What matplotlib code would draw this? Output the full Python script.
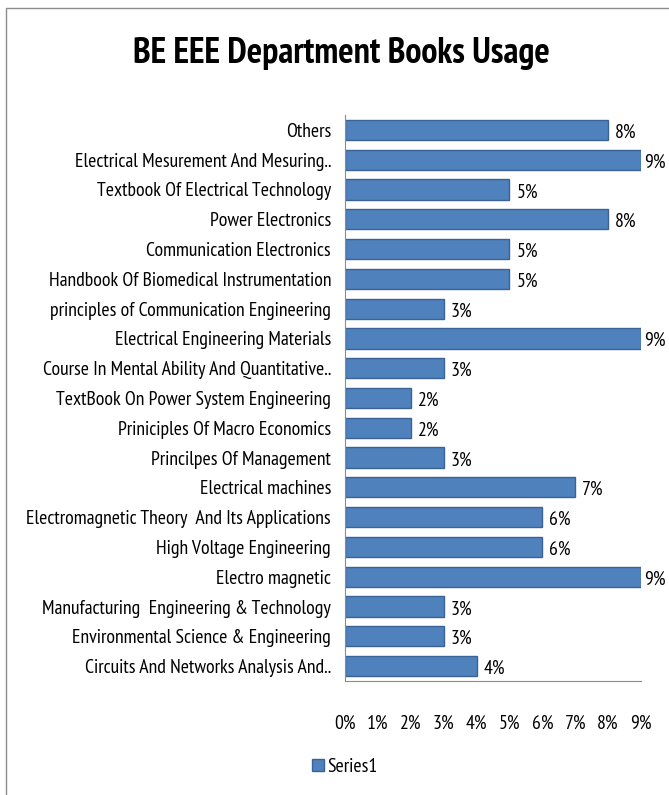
import matplotlib
matplotlib.use("Agg")
import matplotlib.pyplot as plt
from matplotlib import font_manager as fm
from matplotlib.patches import Rectangle
from matplotlib.ticker import FixedLocator, FixedFormatter

categories = [
    "Others",
    "Electrical Mesurement And Mesuring..",
    "Textbook Of Electrical Technology",
    "Power Electronics",
    "Communication Electronics",
    "Handbook Of Biomedical Instrumentation",
    "principles of Communication Engineering",
    "Electrical Engineering Materials",
    "Course In Mental Ability And Quantitative..",
    "TextBook On Power System Engineering",
    "Priniciples Of Macro Economics",
    "Princilpes Of Management",
    "Electrical machines",
    "Electromagnetic Theory  And Its Applications",
    "High Voltage Engineering",
    "Electro magnetic",
    "Manufacturing  Engineering & Technology",
    "Environmental Science & Engineering",
    "Circuits And Networks Analysis And..",
]
values = [8, 9, 5, 8, 5, 5, 3, 9, 3, 2, 2, 3, 7, 6, 6, 9, 3, 3, 4]
xticks = [0, 1, 2, 3, 4, 5, 6, 7, 8, 9]
xtick_labels = ["0%", "1%", "2%", "3%", "4%", "5%", "6%", "7%", "8%", "9%"]
series_name = "Series1"
title = "BE EEE Department Books Usage"

# ---- font choice: an Arial-Narrow-like face ----
info = {}
for f in fm.fontManager.ttflist:
    info.setdefault(f.name, set()).add(f.weight if isinstance(f.weight, int) else 400)
cands = ["Liberation Sans Narrow", "Arial Narrow", "PT Sans Narrow",
         "Roboto Condensed", "Archivo Narrow", "Pragati Narrow",
         "Open Sans Condensed", "Encode Sans Condensed"]
body = next((c for c in cands if c in info), "Liberation Sans")
bold = next((c for c in cands if c in info and any(w >= 700 for w in info[c])),
            body)
BODY = [body, "Liberation Sans", "DejaVu Sans"]
BOLD = [bold, "Liberation Sans", "DejaVu Sans"]
plt.rcParams["font.family"] = BODY

W, H = 669, 795
fig = plt.figure(figsize=(W / 100, H / 100), dpi=100)

# outer chart border
fig.patches.append(Rectangle((6 / W, -0.01), 1.0, 1 - 8 / H + 0.01,
                             transform=fig.transFigure, fill=False,
                             edgecolor="#8c8c8c", linewidth=1.0))

left, right = 345 / W, 641 / W
top, bottom = 1 - 115 / H, 1 - 681 / H
ax = fig.add_axes([left, bottom, right - left, top - bottom])

n = len(categories)
ypos = list(range(n))[::-1]
bar_color = "#4F81BD"
bars = ax.barh(ypos, values, height=0.68, color=bar_color,
               edgecolor="#3B6296", linewidth=1.0, label=series_name)

ax.set_xlim(0, 9)
ax.set_ylim(-0.5, n - 0.5)
ax.set_yticks(ypos)
ax.set_yticklabels(categories, fontsize=12)
ax.xaxis.set_major_locator(FixedLocator(xticks))
ax.xaxis.set_major_formatter(FixedFormatter(xtick_labels))
ax.tick_params(axis="x", length=0, pad=24)
ax.tick_params(axis="y", length=0, pad=10)

for s in ["top", "right"]:
    ax.spines[s].set_visible(False)
ax.spines["left"].set_color("#8c8c8c")
ax.spines["bottom"].set_color("#8c8c8c")

ttl = fig.text(341 / W, 1 - 53 / H, title, ha="center", va="center",
               fontsize=24, fontweight="bold", family=BOLD)

# ---- fit font sizes to the reference's text widths ----
fig.canvas.draw()
r = fig.canvas.get_renderer()
ref_lab = ax.get_yticklabels()[1]
w_lab = ref_lab.get_window_extent(r).width
FS = 12 * 256.0 / w_lab
FS = max(8, min(FS, 16))
w_t = ttl.get_window_extent(r).width
TFS = max(14, min(24 * 419.0 / w_t, 30))
ttl.set_fontsize(TFS)

ax.tick_params(axis="both", labelsize=FS)

for b, v in zip(bars, values):
    off = 2 if v >= 9 else 5
    ax.annotate(f"{v}%", xy=(b.get_width(), b.get_y() + b.get_height() / 2),
                xytext=(off, -2), textcoords="offset points",
                ha="left", va="center", fontsize=FS, clip_on=False)

fig.legend(handles=[bars], labels=[series_name], loc="center",
           bbox_to_anchor=(345 / W, 1 - 767 / H), frameon=False,
           fontsize=FS, handlelength=0.6, handleheight=0.6,
           handletextpad=0.2)

fig.savefig("out.png", dpi=100)
